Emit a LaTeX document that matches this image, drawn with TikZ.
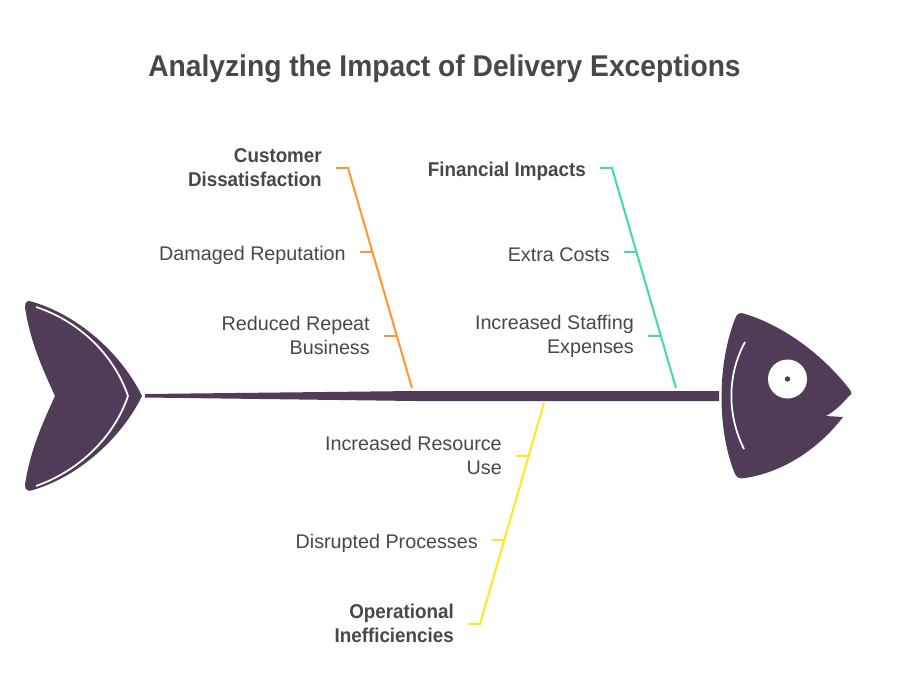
\documentclass[tikz,border=0pt]{standalone}
\usepackage{fontspec}
\setmainfont{Liberation Sans}
\newfontfamily\headfont[FakeStretch=0.94]{Liberation Sans}
\usetikzlibrary{positioning}
\definecolor{fishC}{HTML}{503C57}
\definecolor{textC}{HTML}{484848}
\definecolor{orangeC}{HTML}{FF9633}
\definecolor{greenC}{HTML}{3FDF9B}
\definecolor{yellowC}{HTML}{FFE81F}
\newcommand{\capstrut}{\rule[-1pt]{0pt}{16.5pt}}
\tikzset{
    causebox/.style={anchor=east, align=right, text=textC, font=\fontsize{14.8}{18}\selectfont, inner ysep=0pt, inner xsep=10.5pt,
        execute at begin node=\capstrut, execute at end node=\capstrut},
    headbox/.style={causebox, font=\fontsize{15}{18}\selectfont\headfont\bfseries},
    bone/.style={line width=1.5pt},
    fishpart/.style={fill=fishC, draw=none},
    whiteline/.style={draw=white, line width=1.3pt, fill=none}
}
\begin{document}
\begin{tikzpicture}[x=0.75pt, y=-0.75pt]
    \useasboundingbox[fill=white] (0,0) rectangle (906,696);

    % Title
    \node[text=textC, font=\fontsize{22.5}{27}\selectfont\headfont\bfseries] (title) at (444.5,69) {Analyzing the Impact of Delivery Exceptions};

    % Spine
    \fill[fishC] (145,394) -- (415,391) -- (719,391) -- (719,401) -- (415,401) -- (145,397.5) -- cycle;

    % Tail
    \path[fishpart] (25,307) .. controls (25,301) and (28,300) .. (33,302)
        .. controls (80,316) and (122,355) .. (142,396)
        .. controls (122,437) and (80,476) .. (33,490)
        .. controls (28,492) and (25,490) .. (25,485)
        .. controls (30,450) and (44,420) .. (55,396)
        .. controls (44,372) and (30,342) .. (25,307) -- cycle;
    \draw[whiteline] (36,307) .. controls (76,320) and (113,352) .. (128,396)
        .. controls (113,440) and (76,472) .. (36,486);

    % Head
    \path[fishpart] (735,319) .. controls (737,313) and (740,312) .. (745,314)
        .. controls (785,326) and (825,357) .. (850,390)
        .. controls (852,393) and (852,394) .. (849,396)
        .. controls (842,404) and (835,411) .. (826,416)
        -- (843,417)
        .. controls (820,447) and (785,472) .. (745,478)
        .. controls (740,479) and (737,478) .. (735,474)
        .. controls (717,430) and (717,365) .. (735,319) -- cycle;
    \draw[whiteline] (745,342) .. controls (727,375) and (727,415) .. (744,449);
    \fill[white] (787.5,379) circle (19.5);
    \fill[fishC] (787.5,379) circle (2.7);

    % Customer Dissatisfaction
    \coordinate (orangeEnd) at (412,388);
    \coordinate (orangeTop) at (348,168);
    \coordinate (orangeA) at (372,252);
    \coordinate (orangeB) at (396,336);
    \node[headbox] (dissatisfaction) at (336,168) {Customer\\Dissatisfaction};
    \node[causebox] (reputation) at (360,252) {Damaged Reputation};
    \node[causebox] (repeat) at (384,336) {Reduced Repeat\\Business};
    \draw[bone, orangeC] (dissatisfaction.east) -- (orangeTop) -- (orangeEnd);
    \draw[bone, orangeC] (reputation.east) -- (orangeA);
    \draw[bone, orangeC] (repeat.east) -- (orangeB);

    % Financial Impacts
    \coordinate (greenEnd) at (676,388);
    \coordinate (greenTop) at (612,168);
    \coordinate (greenA) at (636,252);
    \coordinate (greenB) at (660,336);
    \node[headbox] (financial) at (600,168) {Financial Impacts};
    \node[causebox] (costs) at (624,252) {Extra Costs};
    \node[causebox] (staffing) at (648,336) {Increased Staffing\\Expenses};
    \draw[bone, greenC] (financial.east) -- (greenTop) -- (greenEnd);
    \draw[bone, greenC] (costs.east) -- (greenA);
    \draw[bone, greenC] (staffing.east) -- (greenB);

    % Operational Inefficiencies
    \coordinate (yellowEnd) at (544,403);
    \coordinate (yellowTop) at (480,624);
    \coordinate (yellowA) at (504,540);
    \coordinate (yellowB) at (528,456);
    \node[headbox] (operational) at (468,624) {Operational\\Inefficiencies};
    \node[causebox] (processes) at (492,540) {Disrupted Processes};
    \node[causebox] (resource) at (516,456) {Increased Resource\\Use};
    \draw[bone, yellowC] (operational.east) -- (yellowTop) -- (yellowEnd);
    \draw[bone, yellowC] (processes.east) -- (yellowA);
    \draw[bone, yellowC] (resource.east) -- (yellowB);
\end{tikzpicture}
\end{document}
